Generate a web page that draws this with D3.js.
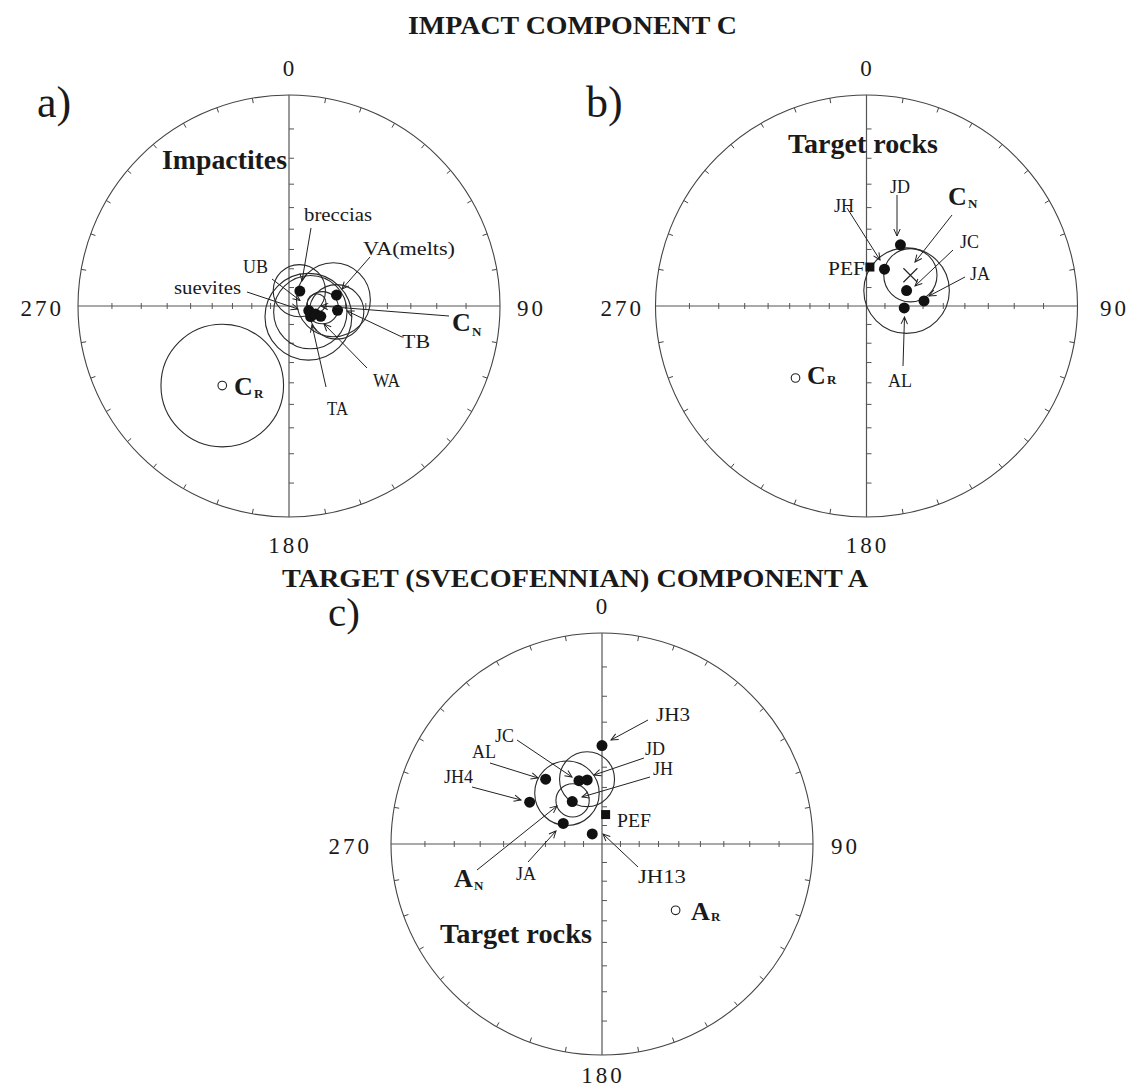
<!DOCTYPE html>
<html><head><meta charset="utf-8">
<script src="https://cdn.jsdelivr.net/npm/d3@7/dist/d3.min.js"></script>
<style>body{margin:0;background:#fff}svg{display:block}text{font-family:"Liberation Serif","Times New Roman",serif;fill:#1a1a1a}</style>
</head><body>
<script>
// ---------------- DATA (declination D, inclination I, alpha95 in degrees) ----------------
// Panel a: impactites, component C
const sitesA = ["breccias", "VA", "TB", "UB", "suevites", "TA", "WA"];
const decA   = [36, 77, 95, 103, 116, 107, 108];
const incA   = [80, 64, 64, 79, 77, 75, 72];
const circNamesA = ["breccias", "suevites", "UB", "VA", "TB", "WA", "C_N", "C_R"];
const circDecA   = [34, 119, 106, 82, 97, 93, 84, 220];
const circIncA   = [80, 78, 78, 66, 64.4, 72, 75, -37.6];
const circA95A   = [14, 23, 19.5, 19, 14, 8.5, 5, 26];
const reverseA   = {name: "C_R", D: 220, I: -37.6};

// Panel b: target rocks, component C
const sitesB = ["JD", "JH", "JC", "JA", "AL"];
const decB   = [29, 26, 69, 85, 93];
const incB   = [53.3, 68, 67, 59.4, 69.7];
const pefB   = {name: "PEF", D: 5, I: 69};
const meanB  = {name: "C_N", D: 55, I: 61.5, a95: 13.5};
const circNamesB = ["C_N", "JC"];
const circDecB   = [55, 69];
const circIncB   = [61.5, 67];
const circA95B   = [13.5, 22];
const reverseB   = {name: "C_R", D: 224.6, I: -38.8};

// Panel c: target rocks, Svecofennian component A
const sitesC = ["JH3", "AL", "JC", "JD", "JH4", "JH", "JA", "JH13"];
const decC   = [0, 319, 340, 347, 300, 325, 298, 316];
const incC   = [40, 45.7, 54.6, 55.4, 46.8, 62.4, 66.5, 82.4];
const pefC   = {name: "PEF", D: 7, I: 74};
const circNamesC = ["AL-JC", "JD", "A_N"];
const circDecC   = [325.4, 347, 326];
const circIncC   = [57.4, 55, 62];
const circA95C   = [16, 13.5, 8.5];
const reverseC   = {name: "A_R", D: 132, I: -39.7};

const azTicks  = d3.range(10, 360, 10).filter(d => d % 90 !== 0);
const incTicks = d3.range(10, 90, 10);
const dirLabels = ["0", "90", "180", "270"];

// ---------------- LAYOUT ----------------
const W = 1134, H = 1087, R = 211;
const rad = Math.PI / 180;
const svg = d3.select("body").append("svg").attr("width", W).attr("height", H);
svg.append("rect").attr("width", W).attr("height", H).attr("fill", "#fff");

const defs = svg.append("defs");
defs.append("marker").attr("id", "arr").attr("viewBox", "-9 -5 10 10")
  .attr("refX", 0).attr("refY", 0).attr("markerWidth", 10).attr("markerHeight", 10)
  .attr("markerUnits", "userSpaceOnUse").attr("orient", "auto")
  .append("path").attr("d", "M-7,-3.2L0,0L-7,3.2").attr("fill", "none")
  .attr("stroke", "#222").attr("stroke-width", 1);

// stereographic (Wulff) radius scale: tan(colatitude/2) -> pixels
const rScale = d3.scaleLinear().domain([0, 1]).range([0, R]);
const colat = I => 90 - Math.abs(I);
function proj(p, D, I) {
  const r = rScale(Math.tan(colat(I) * rad / 2));
  return [p.cx + r * Math.sin(D * rad), p.cy - r * Math.cos(D * rad)];
}
function a95Radius(I, a) {
  const t = colat(I);
  return (rScale(Math.tan((t + a) * rad / 2)) - rScale(Math.tan((t - a) * rad / 2))) / 2;
}

const panels = {
  a: {cx: 289, cy: 306, lab270: 62, lab90: 517, bot: 553},
  b: {cx: 866.5, cy: 306, lab270: 642, lab90: 1100, bot: 553},
  c: {cx: 602, cy: 844, lab270: 370, lab90: 831, bot: 1083}
};

function drawNet(p) {
  const g = svg.append("g");
  const st = "#444";
  g.append("circle").attr("cx", p.cx).attr("cy", p.cy).attr("r", R)
    .attr("fill", "none").attr("stroke", st).attr("stroke-width", 1.1);
  g.append("line").attr("x1", p.cx - R).attr("x2", p.cx + R).attr("y1", p.cy).attr("y2", p.cy)
    .attr("stroke", "#555").attr("stroke-width", 1.2);
  g.append("line").attr("x1", p.cx).attr("x2", p.cx).attr("y1", p.cy - R).attr("y2", p.cy + R)
    .attr("stroke", "#555").attr("stroke-width", 1.2);
  // perimeter ticks (inward)
  g.selectAll(".pt").data(azTicks).enter().append("line")
    .attr("x1", d => p.cx + R * Math.sin(d * rad)).attr("y1", d => p.cy - R * Math.cos(d * rad))
    .attr("x2", d => p.cx + (R - 5) * Math.sin(d * rad)).attr("y2", d => p.cy - (R - 5) * Math.cos(d * rad))
    .attr("stroke", st).attr("stroke-width", 1);
  // axis ticks at 10 deg inclination steps
  incTicks.forEach(inc => {
    const r = rScale(Math.tan(colat(inc) * rad / 2));
    [-1, 1].forEach(s => {
      g.append("line").attr("x1", p.cx + s * r).attr("x2", p.cx + s * r)
        .attr("y1", p.cy - 3).attr("y2", p.cy + 3).attr("stroke", "#555").attr("stroke-width", 1);
      g.append("line").attr("x1", p.cx).attr("x2", p.cx + 5)
        .attr("y1", p.cy + s * r).attr("y2", p.cy + s * r).attr("stroke", "#555").attr("stroke-width", 1);
    });
  });
  const t = (txt, x, y, anchor) => {
    g.append("text").attr("x", x).attr("y", y).attr("text-anchor", anchor)
      .style("font-size", "23px").style("letter-spacing", "3px").text(txt);
  };
  t(dirLabels[0], p.cx + 1, p.cy - 230, "middle");
  t(dirLabels[1], p.lab90, p.cy + 10, "start");
  t(dirLabels[2], p.cx + 1, p.bot, "middle");
  t(dirLabels[3], p.lab270 + 2, p.cy + 10, "end");
}

function drawCircles(p, decs, incs, a95s) {
  svg.append("g").selectAll("circle").data(decs).enter().append("circle")
    .attr("cx", (d, i) => proj(p, d, incs[i])[0])
    .attr("cy", (d, i) => proj(p, d, incs[i])[1])
    .attr("r", (d, i) => a95Radius(incs[i], a95s[i]))
    .attr("fill", "none").attr("stroke", "#2a2a2a").attr("stroke-width", 1.1);
}
function drawDots(p, decs, incs) {
  svg.append("g").selectAll("circle").data(decs).enter().append("circle")
    .attr("cx", (d, i) => proj(p, d, incs[i])[0])
    .attr("cy", (d, i) => proj(p, d, incs[i])[1])
    .attr("r", 5.5).attr("fill", "#111");
}
function drawOpen(p, o) {
  const [x, y] = proj(p, o.D, o.I);
  svg.append("circle").attr("cx", x).attr("cy", y).attr("r", 4.3)
    .attr("fill", "#fff").attr("stroke", "#222").attr("stroke-width", 1.1);
}
function drawSquare(p, o) {
  const [x, y] = proj(p, o.D, o.I);
  svg.append("rect").attr("x", x - 4.5).attr("y", y - 4.5).attr("width", 9).attr("height", 9).attr("fill", "#111");
}
function drawCross(p, o) {
  const [x, y] = proj(p, o.D, o.I);
  const s = 7;
  svg.append("path").attr("d", `M${x - s},${y - s}L${x + s},${y + s}M${x - s},${y + s}L${x + s},${y - s}`)
    .attr("stroke", "#222").attr("stroke-width", 1.1);
}
function arrow(x1, y1, x2, y2) {
  svg.append("line").attr("x1", x1).attr("y1", y1).attr("x2", x2).attr("y2", y2)
    .attr("stroke", "#222").attr("stroke-width", 1).attr("marker-end", "url(#arr)");
}
function label(txt, x, y, size, opts = {}) {
  const e = svg.append("text").attr("x", x).attr("y", y).style("font-size", size + "px").text(txt);
  if (opts.bold) e.style("font-weight", "bold");
  if (opts.anchor) e.attr("text-anchor", opts.anchor);
  if (opts.len) e.attr("textLength", opts.len).attr("lengthAdjust", "spacingAndGlyphs");
  return e;
}
function subLabel(main, sub, x, y, size, subX, subY, subSize) {
  label(main, x, y, size, {bold: true});
  label(sub, subX, subY, subSize, {bold: true});
}

// ---------------- TITLES ----------------
label("IMPACT COMPONENT C", 572.5, 34, 25, {bold: true, anchor: "middle", len: 329});
label("TARGET (SVECOFENNIAN) COMPONENT A", 575, 587, 25, {bold: true, anchor: "middle", len: 586});
label("a)", 37, 117, 44);
label("b)", 586, 117, 44);
label("c)", 328, 626, 41);

// ---------------- PANEL A ----------------
const pa = panels.a;
drawNet(pa);
drawCircles(pa, circDecA, circIncA, circA95A);
drawDots(pa, decA, incA);
drawOpen(pa, reverseA);
label("Impactites", 287, 169, 27, {bold: true, anchor: "end", len: 125});
label("breccias", 304, 221, 18, {len: 68});
label("VA(melts)", 363, 255, 18, {len: 92});
label("UB", 243, 273, 18, {len: 25});
label("suevites", 174, 294, 18, {len: 67});
label("TB", 402, 348, 18, {len: 28});
label("WA", 373, 387, 18, {len: 27});
label("TA", 327, 415, 18, {len: 21});
subLabel("C", "N", 452, 331, 26, 472, 336, 13);
subLabel("C", "R", 234, 395, 26, 254, 398, 13);
arrow(311, 228, 302, 281);
arrow(370, 257, 342, 289);
arrow(272, 279, 300, 300.5);
arrow(247, 292, 298, 309);
arrow(449, 316, 321, 306);
arrow(402, 337, 347, 311);
arrow(367, 368, 324, 324);
arrow(326, 387, 312, 325);

// ---------------- PANEL B ----------------
const pb = panels.b;
drawNet(pb);
drawCircles(pb, circDecB, circIncB, circA95B);
drawDots(pb, decB, incB);
drawSquare(pb, pefB);
drawCross(pb, meanB);
drawOpen(pb, reverseB);
label("Target rocks", 788, 153, 27, {bold: true, len: 150});
label("JD", 890, 193, 18);
label("JH", 834, 212, 18);
label("JC", 960, 248, 18);
label("JA", 970, 280, 18);
label("PEF", 828, 275, 19, {len: 37});
label("AL", 888, 387, 18);
subLabel("C", "N", 948, 205, 26, 968, 208, 13);
subLabel("C", "R", 807, 384, 26, 827, 384, 13);
arrow(897, 195, 897, 236);
arrow(847, 208, 880, 260);
arrow(952, 215, 915, 262);
arrow(953, 250, 915, 286);
arrow(965, 277, 929, 296);
arrow(903, 366, 904.5, 317);

// ---------------- PANEL C ----------------
const pc = panels.c;
drawNet(pc);
drawCircles(pc, circDecC, circIncC, circA95C);
drawDots(pc, decC, incC);
drawSquare(pc, pefC);
drawOpen(pc, reverseC);
label("JH3", 656, 721, 18, {len: 34});
label("JD", 645, 755, 18);
label("JH", 653, 775, 18);
label("JC", 495, 742, 18);
label("AL", 472, 758, 18);
label("JH4", 444, 783, 18);
label("PEF", 617, 827, 19, {len: 34});
label("JA", 516, 880, 18);
label("JH13", 638, 883, 18, {len: 48});
label("Target rocks", 440, 943, 27, {bold: true, len: 152});
subLabel("A", "N", 454, 887, 26, 474, 890, 13);
subLabel("A", "R", 691, 920, 26, 711, 921, 13);
arrow(648, 720, 611, 740);
arrow(644, 758, 594, 775);
arrow(650, 777, 582, 797);
arrow(517, 740, 572, 777);
arrow(490, 763, 538, 778);
arrow(472, 787, 521, 800);
arrow(477, 870, 557, 806);
arrow(528, 862, 556, 831);
arrow(638, 867, 603, 834);
</script>
</body></html>
